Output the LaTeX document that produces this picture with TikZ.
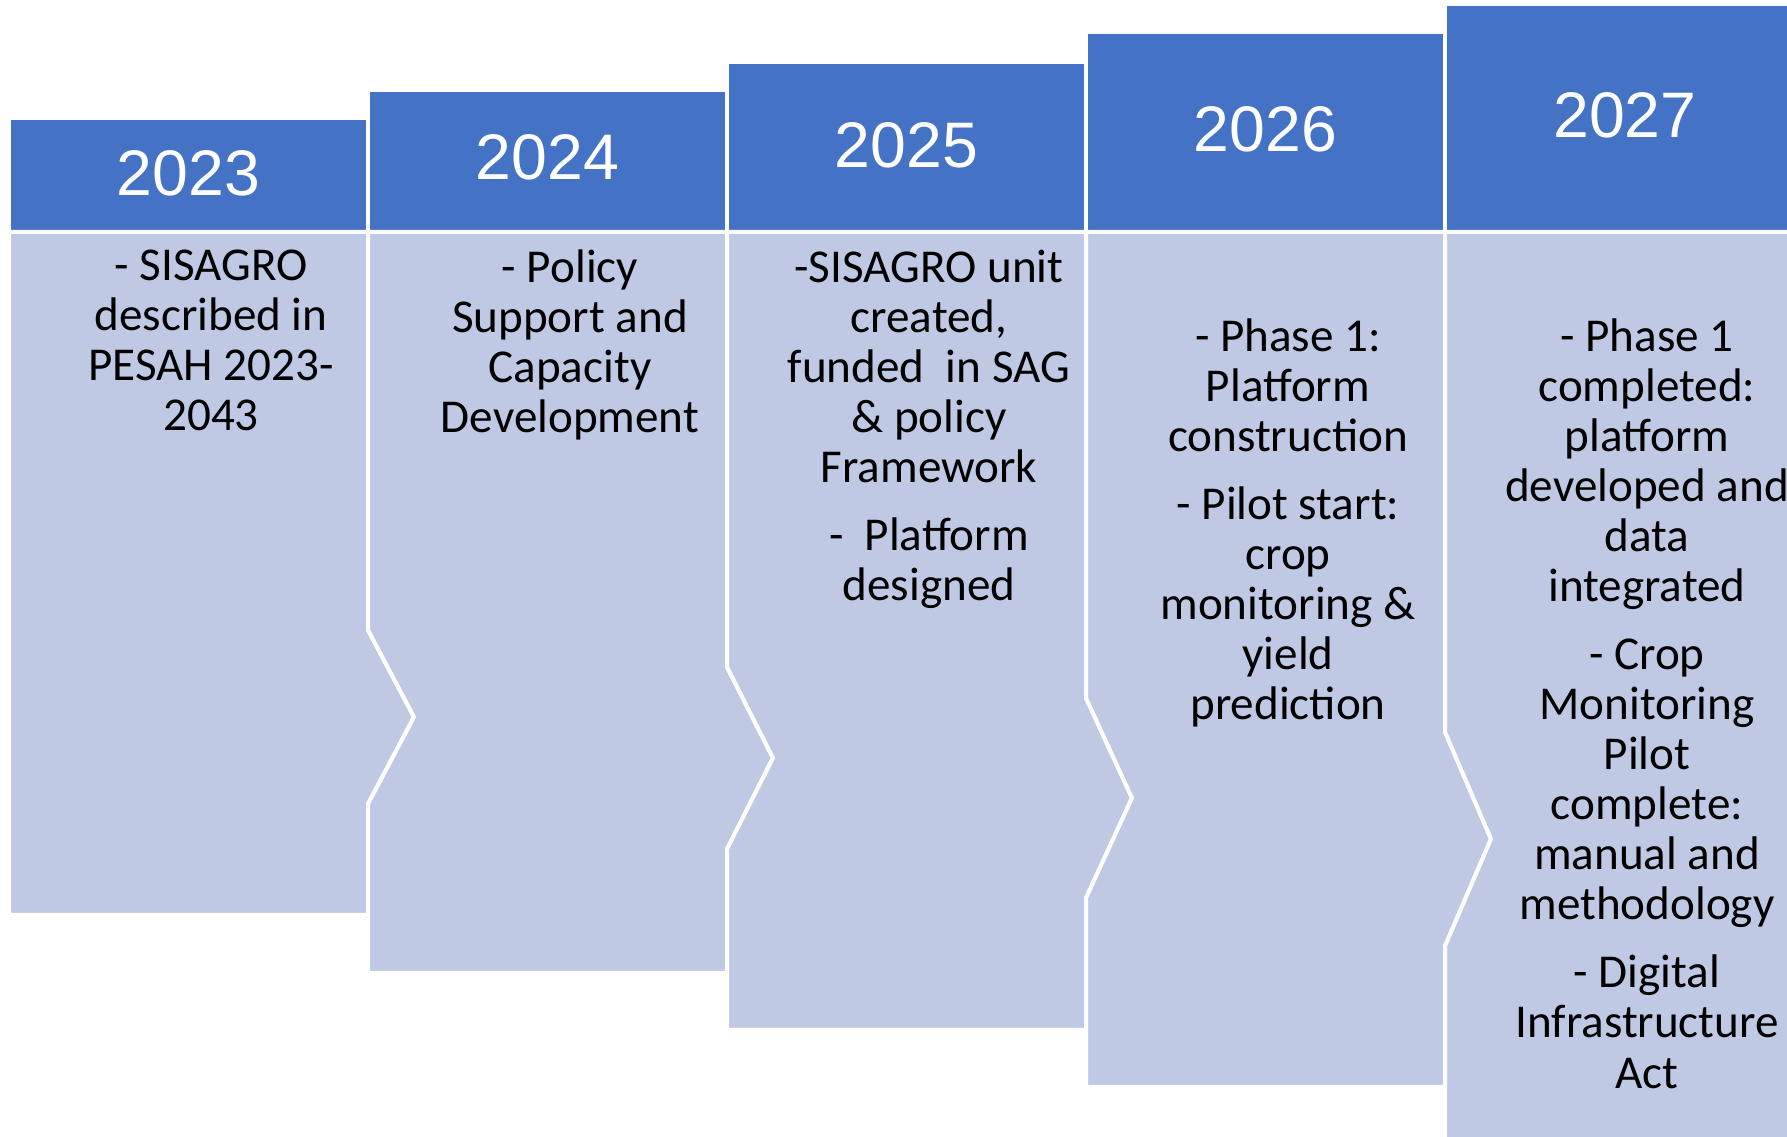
\documentclass[tikz,border=0pt]{standalone}
\usepackage{fontspec}
\setmainfont{Liberation Sans}
\newfontfamily\bodyfont{Carlito}
\definecolor{yearblue}{RGB}{68,114,196}
\definecolor{phaseblue}{RGB}{191,201,227}
\tikzset{year box/.style={fill=yearblue,draw=white,line width=0.04cm},
         phase box/.style={fill=phaseblue,draw=white,line width=0.04cm,line join=miter},
         year label/.style={text=white,font=\fontsize{18.3}{22}\selectfont,inner sep=0pt},
         phase text/.style={anchor=north,align=center,inner sep=0pt,font=\bodyfont\fontsize{13.4}{14.23}\selectfont}
}
\begin{document}
\begin{tikzpicture}[x=0.01cm,y=-0.01cm]
    \useasboundingbox (0,0) rectangle (1787,1137);

    % year headers
    \foreach \l/\r/\t/\yr/\ty in {9/368/118/2023/173, 368/727/90/2024/157, 727/1086/62/2025/145,
                                  1086/1445/32/2026/129, 1445/1805/4/2027/115}{
        \draw[year box] (\l,\t) rectangle (\r,232);
        \node[year label] (y\yr) at ({(\l+\r)/2},\ty) {\yr};
    }

    % chevron bodies
    \draw[phase box] (9,232) -- (368,232) -- (368,630) -- (414,717) -- (368,804) -- (368,915) -- (9,915) -- cycle;
    \draw[phase box] (368,232) -- (727,232) -- (727,667) -- (773,758) -- (727,849) -- (727,973) -- (368,973)
        -- (368,804) -- (414,717) -- (368,630) -- cycle;
    \draw[phase box] (727,232) -- (1086,232) -- (1086,698) -- (1132,798) -- (1086,898) -- (1086,1030) -- (727,1030)
        -- (727,849) -- (773,758) -- (727,667) -- cycle;
    \draw[phase box] (1086,232) -- (1445,232) -- (1445,732) -- (1491,839) -- (1445,946) -- (1445,1087) -- (1086,1087)
        -- (1086,898) -- (1132,798) -- (1086,698) -- cycle;
    \draw[phase box] (1445,232) -- (1805,232) -- (1805,1150) -- (1445,1150)
        -- (1445,946) -- (1491,839) -- (1445,732) -- cycle;

    % texts
    \node[phase text] (t2023) at (211,249) {- SISAGRO\\described in\\PESAH 2023-\\2043};
    \node[phase text] (t2024) at (570,249) {- Policy\\Support and\\Capacity\\Development};
    \node[phase text] (t2025) at (929,249) {-SISAGRO unit\\created,\\funded\ \ in SAG\\\& policy\\Framework\\[0.18cm]-\ \ Platform\\designed};
    \node[phase text] (t2026) at (1288,318) {- Phase 1:\\Platform\\construction\\[0.18cm]- Pilot start:\\crop\\monitoring \&\\yield\\prediction};
    \node[phase text] (t2027) at (1647,318) {- Phase 1\\completed:\\platform\\developed and\\data\\integrated\\[0.18cm]- Crop\\Monitoring\\Pilot\\complete:\\manual and\\methodology\\[0.18cm]- Digital\\Infrastructure\\Act};

\end{tikzpicture}
\end{document}
